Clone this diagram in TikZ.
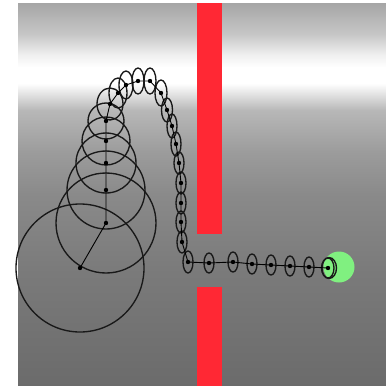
\documentclass[tikz,border=0pt]{standalone}
\usepackage{xcolor}
\usepackage{tikz}

\definecolor{wallred}{RGB}{255,40,52}
\definecolor{goalgreen}{RGB}{128,240,128}

% light band near the top, darker towards the floor
\pgfdeclareverticalshading{lightband}{100bp}{%
  color(0bp)=(black!58); color(25bp)=(black!58);
  color(40bp)=(black!52); color(50bp)=(black!46);
  color(55.5bp)=(black!39); color(61bp)=(black!28);
  color(64.5bp)=(white); color(66.6bp)=(white);
  color(68.2bp)=(black!6); color(70.9bp)=(black!22);
  color(75bp)=(black!35); color(100bp)=(black!35)}

\begin{document}
\begin{tikzpicture}[x=1pt, y=-1pt,
    belief/.style={draw=black!90, line width=1.35pt},
    track/.style={black, line width=0.9pt},
    state/.style={black, radius=2.2}]

    \useasboundingbox (0,0) rectangle (386,386);

    % Background
    \shade[shading=lightband] (18,3) rectangle (386,386);

    % Wall with a gap
    \fill[wallred] (197,3) rectangle (222,234);
    \fill[wallred] (197,287) rectangle (222,386);

    % Goal
    \fill[goalgreen] (339,267) circle[radius=15.5];

    % States with covariance ellipses: index/x/y/rx/ry
    \foreach \i/\px/\py/\rx/\ry in {
        1/80/268/64/64, 2/106/223/50/50, 3/106/190/39/39,
        4/106/163/30/30, 5/106/141/24/24, 6/106/121/18/18,
        7/110/104/13/16, 8/118/93/9/15, 9/126/85/7/14,
        10/138/81/6/13, 11/150/81/6/13, 12/161/93/6/13,
        13/167/110/5.5/12, 14/172/126/5/12, 15/176/144/5/12,
        16/179/163/5/11, 17/181/183/5/11, 18/181/203/5/11,
        19/181/222/5/11, 20/182/242/5/11, 21/188/262/5/11,
        22/209/263/5/10, 23/233/262/5/10, 24/252/264/5/10,
        25/271/265/5/10, 26/290/266/5/10, 27/309/267/5/10,
        28/328/268/6/10, 29/329/268/7.5/10.5} {
        \coordinate (p\i) at (\px,\py);
        \draw[belief] (p\i) ellipse[x radius=\rx, y radius=\ry];
    }

    % Trajectory
    \draw[track] (p1) \foreach \i in {2,...,29} { -- (p\i) };
    \foreach \i in {1,...,28} \fill[state] (p\i) circle;

\end{tikzpicture}
\end{document}
